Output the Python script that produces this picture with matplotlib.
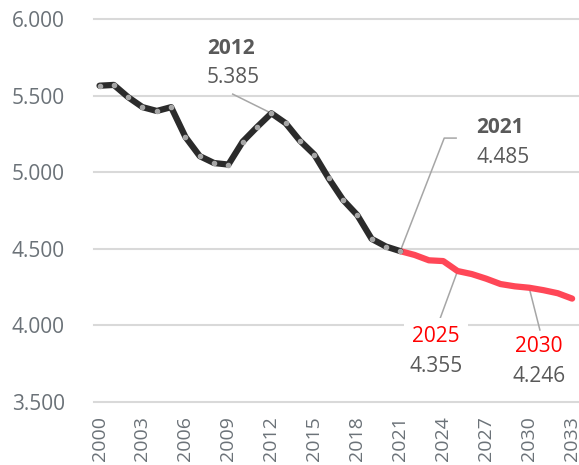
import matplotlib
matplotlib.use("Agg")
import matplotlib.pyplot as plt
from matplotlib.ticker import FuncFormatter

# ── Data ───────────────────────────────────────────────────────────────────
hist_years = list(range(2000, 2022))
hist_vals = [5565, 5570, 5490, 5425, 5400, 5425, 5230, 5105, 5060, 5050, 5200,
             5295, 5385, 5320, 5205, 5115, 4960, 4820, 4720, 4565, 4515, 4485]

proj_years = list(range(2021, 2034))
proj_vals = [4485, 4460, 4425, 4420, 4355, 4335, 4305, 4270, 4255, 4246,
             4230, 4210, 4175]

xtick_years = list(range(2000, 2034, 3))
ytick_vals = [3500, 4000, 4500, 5000, 5500, 6000]

# callout labels: year, value, year-text colour
callout_years = [2012, 2021, 2025, 2030]
callout_vals = [5385, 4485, 4355, 4246]
callout_colors = ["#595959", "#595959", "#ff0000", "#ff0000"]

GRAY = "#595959"
TICK_GRAY = "#6b7278"
plt.rcParams["font.family"] = ["Open Sans", "DejaVu Sans"]

fig = plt.figure(figsize=(5.79, 4.65), dpi=100)
ax = fig.add_axes([0.162, 0.1355, 0.836, 0.8235])

for y in ytick_vals:
    ax.axhline(y, color="#d9d9d9", lw=1.5, zorder=0, clip_on=False)

ax.plot(proj_years, proj_vals, color="#ff4757", lw=4.5,
        solid_capstyle="round", solid_joinstyle="round", zorder=3)
ax.plot(hist_years, hist_vals, color="#2b2b2b", lw=4.5,
        solid_capstyle="round", solid_joinstyle="round", zorder=4,
        marker="o", markersize=3, markerfacecolor="#a6a6a6",
        markeredgecolor="#a6a6a6")

# label placement (x, baseline of year text, baseline of value text, alignment)
label_pos = {
    2012: (2007.5, 5772, 5582, "left"),
    2021: (2026.3, 5256, 5060, "left"),
    2025: (2023.5, 3892, 3696, "center"),
    2030: (2030.7, 3827, 3631, "center"),
}
# leader lines from label toward the point
leader_starts = {
    2012: [(2009.3, 5510)],
    2021: [(2024.9, 5223), (2024.07, 5223)],
    2025: [(2023.8, 4050)],
    2030: [(2030.75, 3970)],
}

for year, val, col in zip(callout_years, callout_vals, callout_colors):
    pts = leader_starts[year] + [(year, val)]
    ax.plot([p[0] for p in pts], [p[1] for p in pts], color="#a6a6a6",
            lw=1.1, zorder=2)
    tx, ty1, ty2, ha = label_pos[year]
    is_proj = col == "#ff0000"
    bg = dict(facecolor="white", edgecolor="none", pad=6) if year == 2025 else None
    ax.text(tx, ty1, str(year), color=col, fontsize=15,
            fontweight="normal" if is_proj else "bold",
            ha=ha, va="baseline", zorder=5, bbox=bg)
    ax.text(tx, ty2, f"{val:,}".replace(",", "."), color=GRAY, fontsize=15,
            ha=ha, va="baseline", zorder=5)

ax.set_xlim(1999.6, 2033.4)
ax.set_ylim(3500, 6000)
ax.set_xticks(xtick_years)
ax.set_xticklabels([str(y) for y in xtick_years], rotation=90)
ax.set_yticks(ytick_vals)
ax.yaxis.set_major_formatter(FuncFormatter(lambda v, p: f"{int(v):,}".replace(",", ".")))
ax.tick_params(axis="y", length=0, pad=21, labelsize=15, labelcolor=TICK_GRAY)
ax.tick_params(axis="x", length=0, pad=10, labelsize=14, labelcolor=TICK_GRAY)
for s in ax.spines.values():
    s.set_visible(False)

fig.savefig("out.png", dpi=100)
